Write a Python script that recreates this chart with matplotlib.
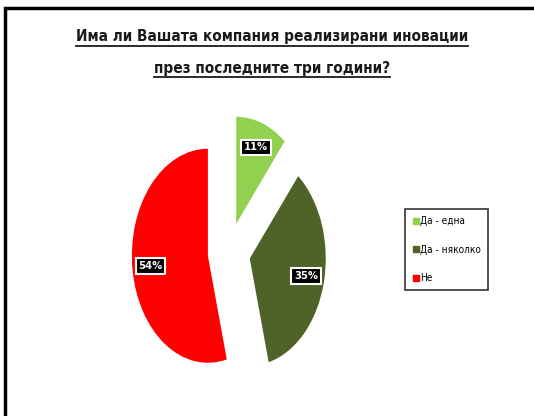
import matplotlib.pyplot as plt
from matplotlib.patches import Rectangle
from matplotlib.lines import Line2D

plt.rcParams['font.family'] = ['DejaVu Sans']
plt.rcParams['font.stretch'] = 'condensed'

# Survey answers
labels = ['Да - една', 'Да - няколко', 'Не']
shares = [11, 35, 54]
colors = ['#92D050', '#4F6228', '#FF0000']
title_lines = ['Има ли Вашата компания реализирани иновации',
               'през последните три години?']

W, H = 534, 416
fig = plt.figure(figsize=(W / 100, H / 100), dpi=100)

# outer frame (only top and left edges fall inside the image)
fig.patches.append(Rectangle((5 / W, -0.1), 1.2, (H - 8) / H + 0.1,
                             transform=fig.transFigure, fill=False,
                             ec='black', lw=2.5))

# pie axes: 1 unit = 76 px horizontally, 107 px vertically
ax = fig.add_axes([100 / W, 16 / H, 260 / W, 300 / H])
wedges, texts, autotexts = ax.pie(
    shares, colors=colors, startangle=90, counterclock=False,
    explode=[0.28, 0.28, 0.28], autopct='%d%%', pctdistance=0.76,
    wedgeprops=dict(lw=0),
    textprops=dict(color='white', fontsize=8, fontweight='bold'))
for t in autotexts:
    t.set_bbox(dict(boxstyle='square,pad=0.25', fc='black', ec='white', lw=1.5))
ax.set_aspect('auto')
ax.set_xlim(-129 / 76, 131 / 76)
ax.set_ylim(-148 / 107, 152 / 107)
ax.axis('off')

# legend
handles = [Line2D([], [], marker='s', ls='', color=c, markersize=5) for c in colors]
leg = fig.legend(handles, labels, loc='upper left',
                 bbox_to_anchor=(405 / W, 1 - 209 / H), fontsize=7.2,
                 frameon=True, fancybox=False, handletextpad=0.1,
                 handlelength=0.7, labelspacing=1.85, borderpad=0.7,
                 borderaxespad=0)
leg.get_frame().set_edgecolor('black')
leg.get_frame().set_linewidth(1.2)

# underlined title
title_texts = []
for i, line in enumerate(title_lines):
    t = fig.text(272 / W, 1 - (37 + 31 * i) / H, line, ha='center', va='center',
                 fontsize=11, fontweight='bold', color='#1a1a1a')
    title_texts.append(t)

fig.canvas.draw()
r = fig.canvas.get_renderer()
for t in title_texts:
    bb = t.get_window_extent(r)
    y = bb.y0 - 1
    fig.add_artist(Line2D([bb.x0 / W, bb.x1 / W], [y / H, y / H],
                          transform=fig.transFigure, color='#1a1a1a', lw=1.3))

fig.savefig('out.png', dpi=100)
